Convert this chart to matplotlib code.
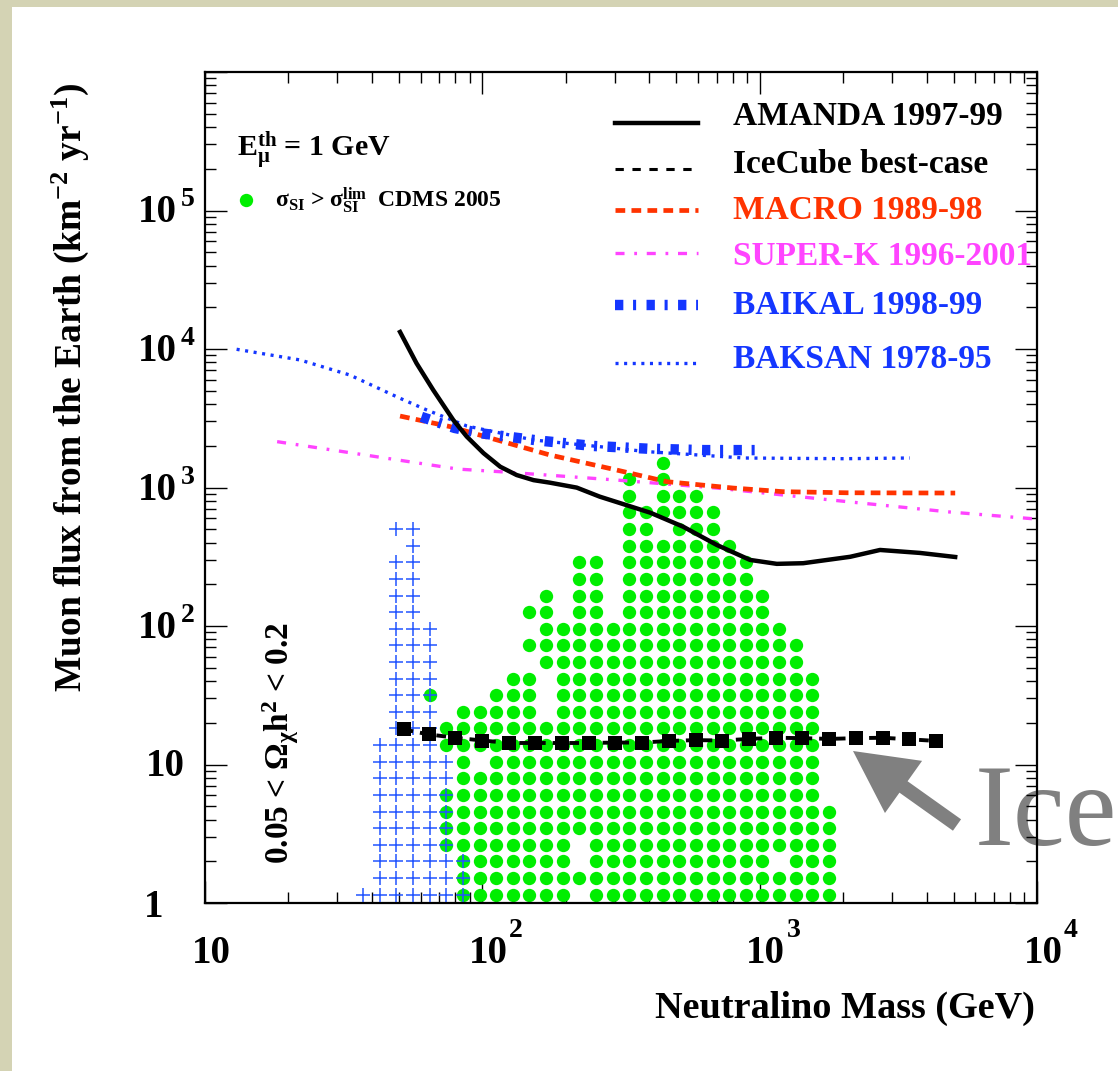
import numpy as np
import matplotlib
matplotlib.use('Agg')
import matplotlib.pyplot as plt
from matplotlib.patches import Rectangle, FancyArrow
from matplotlib.lines import Line2D
from matplotlib.ticker import LogLocator, NullFormatter
from matplotlib.transforms import IdentityTransform, blended_transform_factory, offset_copy

plt.rcParams['font.family'] = 'Liberation Serif'
plt.rcParams['font.weight'] = 'bold'
plt.rcParams['mathtext.fontset'] = 'custom'
plt.rcParams['mathtext.rm'] = 'Liberation Serif:bold'
plt.rcParams['mathtext.it'] = 'Liberation Serif:bold'
plt.rcParams['mathtext.bf'] = 'Liberation Serif:bold'
plt.rcParams['mathtext.default'] = 'rm'
plt.rcParams['lines.scale_dashes'] = False

# --- limits from experiments (mass in GeV, flux in km^-2 yr^-1) ---
amanda_mass = [50.5, 57.9, 66.5, 78.5, 87.9, 101, 116, 133, 153, 175, 219, 265,
               403, 530, 700, 923, 1153, 1435, 2120, 2716, 3784, 5070]
amanda_flux = [13270, 7890, 5060, 3080, 2330, 1770, 1413, 1230, 1130, 1084, 998, 859,
               658, 521, 385, 300, 281, 284, 316, 354, 337, 315]

macro_mass = [50.5, 76.6, 175, 305, 462, 802, 1213, 2061, 5070]
macro_flux = [3280, 2750, 1718, 1337, 1102, 991, 933, 916, 912]

superk_mass = [18.2, 81.7, 116, 305, 700, 1213, 2061, 4864, 9840]
superk_flux = [2143, 1358, 1300, 1132, 991, 883, 791, 665, 593]

baikal_mass = [60.3, 79.4, 100, 158, 251, 398, 631, 1000]
baikal_flux = [3236, 2692, 2455, 2188, 1995, 1905, 1862, 1862]

baksan_mass = [13.0, 22.0, 33.3, 50.5, 63.0, 87.9, 153, 265, 392, 879, 2014, 3483]
baksan_flux = [9954, 8337, 6486, 4406, 3631, 2780, 2203, 1972, 1816, 1633, 1614, 1633]

icecube_mass = [52, 64, 80, 100, 125, 155, 194, 242, 302, 377, 471, 589,
                733, 914, 1143, 1426, 1778, 2228, 2780, 3467, 4325]
icecube_flux = [17.9, 16.5, 15.6, 14.9, 14.3, 14.3, 14.3, 14.3, 14.4, 14.4, 14.8,
                15.0, 14.9, 15.3, 15.6, 15.5, 15.3, 15.5, 15.6, 15.2, 14.8]

# --- MSSM scan grid: column centres (log10 GeV) and row centres (log10 flux) ---
scan_log_mass = [1.57, 1.63, 1.69, 1.75, 1.81, 1.87, 1.93, 1.99, 2.05, 2.11,
                 2.17, 2.23, 2.29, 2.35, 2.41, 2.47, 2.53, 2.59, 2.65, 2.71,
                 2.77, 2.83, 2.89, 2.95, 3.01, 3.07, 3.13, 3.19, 3.25]
scan_log_flux = [3.18, 3.06, 2.94, 2.82, 2.70, 2.58, 2.46, 2.34, 2.22, 2.10,
                 1.98, 1.86, 1.74, 1.62, 1.50, 1.38, 1.26, 1.14, 1.02, 0.90,
                 0.78, 0.66, 0.54, 0.42, 0.30, 0.18, 0.06]
# 'o' excluded by CDMS, '+' allowed model, '*' both, '.' empty
scan_rows = [
    ". ..... ..... ..... ..o.. ..... ...",
    ". ..... ..... ..... o.o.. ..... ...",
    ". ..... ..... ..... o.ooo ..... ...",
    ". ..... ..... ..... ooooo o.... ...",
    ". .++.. ..... ..... oo.oo o.... ...",
    ". ..+.. ..... ..... ooooo oo... ...",
    ". .++.. ..... ..oo. ooooo ooo.. ...",
    ". .++.. ..... ..oo. ooooo ooo.. ...",
    ". .++.. ..... o.oo. ooooo oooo. ...",
    ". .++.. ....o o.oo. ooooo oooo. ...",
    ". .+++. ..... ooooo ooooo ooooo ...",
    ". .+++. ....o ooooo ooooo ooooo o..",
    ". .+++. ..... ooooo ooooo ooooo o..",
    ". .+++. ...oo .oooo ooooo ooooo oo.",
    ". .++*. ..ooo .oooo ooooo ooooo oo.",
    ". .+++. ooooo .oooo ooooo ooooo oo.",
    ". .+++o ooooo ooooo ooooo ooooo oo.",
    ". ++++o ooooo ooooo ooooo ooooo oo.",
    ". +++++ o.ooo ooooo ooooo ooooo oo.",
    ". +++++ ooooo ooooo ooooo ooooo oo.",
    ". ++++* ooooo ooooo ooooo ooooo oo.",
    ". ++++* ooooo ooooo ooooo ooooo ooo",
    ". ++++* ooooo ooooo ooooo ooooo ooo",
    ". ++++* ooooo oo.oo ooooo ooooo ooo",
    ". +++++ *oooo oo.oo ooooo oooo. ooo",
    ". +++++ *oooo ooooo ooooo ooooo ooo",
    "+ +++++ *oooo oo.oo ooooo ooooo ooo",
]

BLACK = '#000000'
RED = '#ff3300'
MAGENTA = '#ff44ff'
BLUE = '#1436ff'
GREEN = '#00ee00'
CROSS_BLUE = '#2255ff'

green_m, green_f, cross_m, cross_f = [], [], [], []
for i, row in enumerate(scan_rows):
    cells = row.replace(' ', '')
    for j, c in enumerate(cells):
        m = 10 ** scan_log_mass[j]
        f = 10 ** scan_log_flux[i]
        if c in 'o*':
            green_m.append(m)
            green_f.append(f)
        if c in '+*':
            cross_m.append(m)
            cross_f.append(f)

W, H = 1118, 1071
fig = plt.figure(figsize=(W / 100, H / 100), dpi=100)
fig.patch.set_facecolor('#d4d3b4')
fig.add_artist(Rectangle((12 / W, 0), 1 - 12 / W, 1 - 7 / H, transform=fig.transFigure,
                         facecolor='white', edgecolor='none', zorder=-5))

ax = fig.add_axes([205 / W, (H - 903) / H, 832 / W, 831 / H])
ax.patch.set_visible(False)
ax.set_xscale('log')
ax.set_yscale('log')
ax.set_xlim(10, 1e4)
ax.set_ylim(1, 1e6)

ax.plot(green_m, green_f, 'o', color=GREEN, ms=9.6, mew=0, zorder=2)
ax.plot(cross_m, cross_f, '+', color=CROSS_BLUE, ms=10.5, mew=1.1, zorder=3)

ax.plot(superk_mass, superk_flux, color=MAGENTA, lw=2.4, dashes=(6.5, 7, 2, 7), zorder=4)
ax.plot(macro_mass, macro_flux, color=RED, lw=3.4, dashes=(7, 4.5), zorder=4)
ax.plot(baksan_mass, baksan_flux, color=BLUE, lw=2.4, dashes=(2.2, 4.0), zorder=4)
ax.plot(baikal_mass, baikal_flux, color=BLUE, lw=7.5, dashes=(6, 7, 2.2, 7.5), zorder=4)
ax.plot(amanda_mass, amanda_flux, color=BLACK, lw=3.2, zorder=5)
ax.plot(icecube_mass, icecube_flux, color=BLACK, lw=2.8, dashes=(7, 5),
        marker='s', ms=10.2, mew=0, zorder=6)

# ROOT-like frame: inward ticks on all four sides
ax.xaxis.set_major_locator(LogLocator(base=10, numticks=10))
ax.xaxis.set_minor_locator(LogLocator(base=10, subs=np.arange(2, 10), numticks=20))
ax.yaxis.set_major_locator(LogLocator(base=10, numticks=10))
ax.yaxis.set_minor_locator(LogLocator(base=10, subs=np.arange(2, 10), numticks=20))
ax.xaxis.set_major_formatter(NullFormatter())
ax.xaxis.set_minor_formatter(NullFormatter())
ax.yaxis.set_major_formatter(NullFormatter())
ax.yaxis.set_minor_formatter(NullFormatter())
ax.tick_params(which='both', direction='in', top=True, right=True, width=1.0)
ax.tick_params(which='major', length=16)
ax.tick_params(which='minor', length=8)
for sp in ax.spines.values():
    sp.set_linewidth(1.6)

# tick labels drawn as "10" plus a raised exponent
xbase = blended_transform_factory(ax.transData, ax.transAxes)
for dec in [1, 2, 3, 4]:
    v = 10 ** dec
    ax.text(v, 0, '10', fontsize=28, ha='center', va='baseline',
            transform=offset_copy(xbase, fig, x=6, y=-60, units='dots'))
    if dec > 1:
        ax.text(v, 0, str(dec), fontsize=20, ha='left', va='baseline',
                transform=offset_copy(xbase, fig, x=27, y=-34, units='dots'))

ybase = blended_transform_factory(ax.transAxes, ax.transData)
ax.text(0, 1, '1', fontsize=28, ha='center', va='baseline',
        transform=offset_copy(ybase, fig, x=-51, y=-14, units='dots'))
ax.text(0, 10, '10', fontsize=28, ha='center', va='baseline',
        transform=offset_copy(ybase, fig, x=-40, y=-12, units='dots'))
for dec in [2, 3, 4, 5]:
    v = 10 ** dec
    ax.text(0, v, '10', fontsize=28, ha='right', va='baseline',
            transform=offset_copy(ybase, fig, x=-28, y=-12, units='dots'))
    ax.text(0, v, str(dec), fontsize=20, ha='left', va='baseline',
            transform=offset_copy(ybase, fig, x=-24, y=4, units='dots'))

# legend block, upper right
legend_rows = [
    ('AMANDA 1997-99', BLACK, dict(lw=3.2), 0.9386, 0.9362),
    ('IceCube best-case', BLACK, dict(lw=2.2, dashes=(6, 6.2)), 0.8833, 0.8785),
    ('MACRO 1989-98', RED, dict(lw=3.4, dashes=(7, 4.5)), 0.8339, 0.8231),
    ('SUPER-K 1996-2001', MAGENTA, dict(lw=2.4, dashes=(6.5, 7, 2, 7)), 0.7822, 0.7677),
    ('BAIKAL 1998-99', BLUE, dict(lw=7.5, dashes=(6, 7, 2.2, 7.5)), 0.7196, 0.7088),
    ('BAKSAN 1978-95', BLUE, dict(lw=2.4, dashes=(2.2, 4.0)), 0.6498, 0.6438),
]
for label, col, style, yl, yt in legend_rows:
    ax.add_line(Line2D([0.4928, 0.5925], [yl, yl], color=col, transform=ax.transAxes,
                       clip_on=False, **style))
    ax.text(0.6346, yt, label, color=col, fontsize=24, ha='left', va='baseline',
            transform=ax.transAxes, clip_on=False)

ax.text(0.0385, 0.8977, r'$\mathrm{E}^{\mathrm{th}}_{\mathrm{μ}}$ = 1 GeV', fontsize=21.5,
        ha='left', va='baseline', transform=ax.transAxes)
ax.plot([0.0493], [0.8460], 'o', color=GREEN, ms=9.6, mew=0, transform=ax.transAxes)
ax.text(0.0841, 0.8363,
        r'$\mathrm{σ}_{\mathrm{SI}}$ > $\mathrm{σ}^{\mathrm{lim}}_{\mathrm{SI}}$  CDMS 2005',
        fontsize=17, ha='left', va='baseline', transform=ax.transAxes)

ax.text(0.0913, 0.1925, r'0.05 < $\mathrm{Ω}_{\mathrm{χ}}\mathrm{h}^{2}$ < 0.2', fontsize=24,
        rotation=90, ha='center', va='center', transform=ax.transAxes)

fig.text(70 / W, (H - 388) / H, r'Muon flux from the Earth (km$^{-2}$ yr$^{-1}$)',
         fontsize=27, rotation=90, ha='center', va='center')
fig.text(1035 / W, (H - 1018) / H, 'Neutralino Mass (GeV)', fontsize=27.5,
         ha='right', va='baseline')

# big grey pointer to the IceCube curve
fig.text(975 / W, (H - 845) / H, 'Ice', fontsize=84, fontweight='normal',
         color='#808080', ha='left', va='baseline', zorder=-1)
fig.add_artist(FancyArrow(957, H - 825, -104, 74, width=14, head_width=64, head_length=62,
                          length_includes_head=True, color='#808080', lw=0,
                          transform=IdentityTransform(), zorder=1))

fig.savefig('out.png', dpi=100)
